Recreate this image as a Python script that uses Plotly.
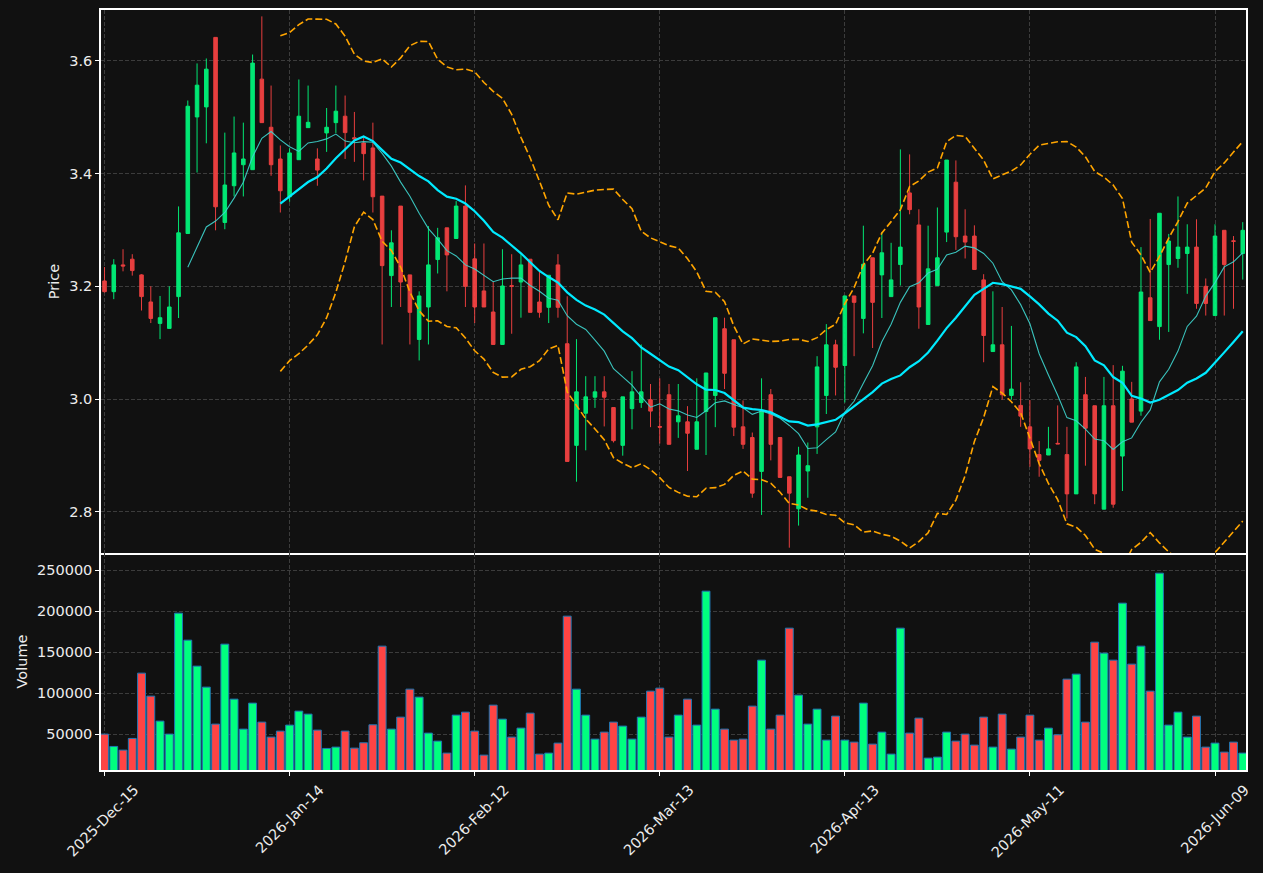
import pandas as pd
import numpy as np
import plotly.graph_objects as go
from plotly.subplots import make_subplots

# ---------------- data ----------------
open_ = [3.2095, 3.1905, 3.238, 3.2481, 3.2203, 3.1722, 3.1342, 3.1253, 3.1817, 3.2937,
         3.5006, 3.5184, 3.6418, 3.3133, 3.3785, 3.4158, 3.407, 3.5677, 3.4823, 3.426,
         3.3589, 3.4247, 3.4816, 3.426, 3.4722, 3.4905, 3.5019, 3.4637, 3.4544, 3.4456,
         3.3601, 3.219, 3.3424, 3.2203, 3.1057, 3.1633, 3.2475, 3.3038, 3.2848, 3.3424,
         3.2487, 3.1918, 3.1544, 3.0968, 3.2012, 3.2076, 3.2481, 3.1722, 3.1627, 3.238,
         3.0981, 2.9177, 2.9747, 3.0032, 3.0127, 2.9848, 2.9177, 2.9829, 2.9937, 2.9987,
         2.9512, 3.0076, 2.9595, 2.9595, 2.9108, 2.9778, 3.0063, 3.1247, 3.1051, 2.9506,
         2.9316, 2.8715, 3.0076, 2.9316, 2.862, 2.8051, 2.8722, 2.9506, 3.0063, 3.0962,
         3.0595, 3.1829, 3.143, 3.2506, 3.2203, 3.1817, 3.2386, 3.3658, 3.3089, 3.1323,
         3.2013, 3.2962, 3.3848, 3.2892, 3.2892, 3.2114, 3.0842, 3.0962, 3.0063, 2.9886,
         2.9506, 2.9013, 2.9006, 2.9213, 2.9013, 2.8316, 3.0076, 2.988, 2.8045, 2.988,
         2.8987, 3.0, 2.9785, 3.1797, 3.1285, 3.2386, 3.2494, 3.2582, 3.2696, 3.2,
         3.1481, 3.2994, 3.2808, 3.2582]
high = [3.2342, 3.2481, 3.2658, 3.257, 3.2215, 3.2, 3.1829, 3.2, 3.3418, 3.5298,
        3.5956, 3.6044, 3.6418, 3.4728, 3.5013, 3.4905, 3.6114, 3.6791, 3.5563, 3.45,
        3.445, 3.5671, 3.5563, 3.4449, 3.5165, 3.5563, 3.5386, 3.5095, 3.4671, 3.4905,
        3.3601, 3.2994, 3.3424, 3.2203, 3.1911, 3.307, 3.3038, 3.3038, 3.3513, 3.3791,
        3.276, 3.276, 3.2076, 3.2658, 3.257, 3.257, 3.2481, 3.2266, 3.2196, 3.257,
        3.1823, 3.1063, 3.0405, 3.0405, 3.0405, 2.9848, 3.0038, 3.0494, 3.0968, 3.0266,
        3.0367, 3.0266, 3.0266, 2.9873, 3.0367, 3.0462, 3.1443, 3.1443, 3.1051, 2.9975,
        2.9405, 3.0367, 3.0177, 2.9316, 2.862, 2.9152, 2.9228, 3.076, 3.1329, 3.1051,
        3.1829, 3.1829, 3.3076, 3.2506, 3.2962, 3.2772, 3.443, 3.4342, 3.3367, 3.3076,
        3.3399, 3.4241, 3.4234, 3.3367, 3.3082, 3.2215, 3.1911, 3.1633, 3.1297, 3.0297,
        2.9981, 2.9253, 2.9506, 2.9886, 2.9506, 3.0652, 3.0392, 2.988, 3.0392, 3.0601,
        3.0589, 3.0304, 3.2696, 3.3196, 3.3297, 3.293, 3.3595, 3.3101, 3.319, 3.2139,
        3.3101, 3.2994, 3.2892, 3.3139]
low = [3.189, 3.1772, 3.2266, 3.219, 3.157, 3.1348, 3.1063, 3.1253, 3.1437, 3.2937,
       3.4019, 3.4538, 3.2994, 3.3013, 3.3595, 3.3595, 3.407, 3.4905, 3.3962, 3.331,
       3.35, 3.4247, 3.4816, 3.3785, 3.4386, 3.4722, 3.426, 3.4209, 3.388, 3.331,
       3.0968, 3.1633, 3.1633, 3.0968, 3.0684, 3.0968, 3.2228, 3.1911, 3.2848, 3.1633,
       3.1348, 3.1633, 3.0968, 3.0968, 3.1158, 3.1443, 3.1538, 3.1443, 3.1348, 3.1443,
       2.8892, 2.8532, 2.9089, 2.9842, 2.9513, 2.9228, 2.8994, 2.9462, 2.9842, 2.95,
       2.9209, 2.9196, 2.931, 2.8722, 2.9108, 2.9006, 2.95, 3.0177, 2.9342, 2.9114,
       2.8247, 2.7943, 2.8911, 2.8608, 2.7361, 2.7753, 2.8247, 2.9025, 2.9734, 3.0063,
       2.9937, 3.076, 3.1165, 3.0905, 3.1437, 3.1817, 3.2013, 3.3278, 3.1247, 3.1323,
       3.2013, 3.2785, 3.2646, 3.2494, 3.2298, 3.0652, 3.0842, 2.9987, 2.9987, 2.9506,
       2.8797, 2.862, 2.9006, 2.9203, 2.788, 2.8316, 2.8816, 2.8133, 2.8045, 2.807,
       2.8367, 2.9589, 2.9703, 3.1392, 3.1051, 3.119, 3.2329, 3.1867, 3.1601, 3.1481,
       3.1481, 3.1481, 3.1601, 3.212]
close = [3.1905, 3.238, 3.236, 3.2279, 3.1817, 3.143, 3.1443, 3.1633, 3.2949, 3.5196,
         3.557, 3.5854, 3.3411, 3.3798, 3.4367, 3.426, 3.5962, 3.4905, 3.4158, 3.3696,
         3.4367, 3.5019, 3.4911, 3.4063, 3.4823, 3.5108, 3.4728, 3.4617, 3.4354, 3.3589,
         3.2367, 3.2772, 3.2076, 3.1538, 3.1829, 3.238, 3.2861, 3.2557, 3.3424, 3.2,
         3.1633, 3.1633, 3.0968, 3.2006, 3.2, 3.238, 3.1538, 3.1538, 3.2196, 3.1627,
         2.8892, 3.0127, 3.0038, 3.0127, 3.0032, 2.926, 3.0038, 3.0127, 3.0127, 2.9785,
         2.95, 2.9196, 2.9702, 2.9392, 2.9595, 3.0462, 3.1443, 3.0456, 2.95, 2.9196,
         2.8329, 2.9785, 2.9196, 2.8608, 2.8329, 2.9006, 2.8816, 3.057, 3.0962, 3.0563,
         3.1829, 3.1715, 3.2392, 3.1715, 3.2595, 3.2114, 3.2696, 3.3361, 3.1633, 3.231,
         3.2506, 3.4241, 3.288, 3.2785, 3.2298, 3.1127, 3.0962, 3.0076, 3.0177, 2.9696,
         2.9114, 2.8911, 2.9114, 2.9203, 2.8316, 3.057, 2.9481, 2.8316, 2.988, 2.8133,
         3.0494, 2.9589, 3.1899, 3.1392, 3.3297, 3.2804, 3.2696, 3.2696, 3.1696, 3.1696,
         3.2892, 3.2386, 3.2798, 3.2994]
volume = [50000, 34960, 30490, 44720, 124390, 96340, 65850, 50000, 197560, 164630,
          132930, 107320, 62200, 159760, 92680, 56100, 87800, 64630, 46340, 53660,
          60980, 78050, 74390, 54880, 32520, 34150, 53660, 32930, 39430, 61380,
          157320, 56100, 70730, 104880, 95120, 51220, 41460, 26830, 73170, 76830,
          53660, 24390, 85370, 68290, 46340, 57320, 75610, 25610, 26830, 39020,
          193900, 104880, 73170, 43900, 52440, 64630, 59760, 43900, 70730, 102440,
          106100, 46340, 73170, 92680, 60980, 224390, 80490, 56100, 42680, 43900,
          84150, 140240, 56100, 73170, 179270, 97560, 62200, 80490, 42680, 71950,
          42680, 40240, 87800, 37800, 52440, 25610, 179270, 51220, 69510, 20730,
          21950, 52440, 41460, 50000, 36580, 70730, 34150, 74390, 31710, 46340,
          73170, 42680, 57320, 49190, 117070, 123170, 64630, 162190, 148780, 140240,
          209750, 135370, 157320, 102440, 246340, 60980, 76830, 46340, 71950, 34150,
          39020, 28050, 40240, 26830]

holidays = ['2025-12-25', '2026-01-01', '2026-01-19', '2026-02-16',
            '2026-04-03', '2026-05-25']
dates = pd.bdate_range('2025-12-15', periods=len(close), freq='C', holidays=holidays)
date_labels = [d.strftime('%Y-%b-%d') for d in dates]
tick_step = 20

price_ticks = [2.8, 3.0, 3.2, 3.4, 3.6]
volume_ticks = [50000, 100000, 150000, 200000, 250000]

# ---------------- derived indicators ----------------
idx = list(range(len(close)))
cs = pd.Series(close)
ma10 = cs.rolling(10).mean()
ma20 = cs.rolling(20).mean()
sd20 = cs.rolling(20).std(ddof=0)
upper = ma20 + 2 * sd20
lower = ma20 - 2 * sd20

UP = '#00ff7f'
DOWN = '#ff4444'
vol_colors = [UP if c >= o else DOWN for o, c in zip(open_, close)]

FONT = 'DejaVu Sans'
BG = '#111111'
GRID = '#3c3c3c'
TXT = '#ececec'

fig = make_subplots(rows=2, cols=1, shared_xaxes=True, vertical_spacing=0,
                    row_heights=[543, 217])

fig.add_trace(go.Candlestick(
    x=idx, open=open_, high=high, low=low, close=close,
    increasing=dict(line=dict(color=UP, width=1), fillcolor=UP),
    decreasing=dict(line=dict(color=DOWN, width=1), fillcolor=DOWN),
    opacity=0.9, whiskerwidth=0, showlegend=False, name='OHLC'), row=1, col=1)

fig.add_trace(go.Scatter(x=idx, y=ma10, mode='lines',
                         line=dict(color='#3fd6cf', width=1.1), opacity=0.9,
                         showlegend=False, name='MA10'), row=1, col=1)
fig.add_trace(go.Scatter(x=idx, y=ma20, mode='lines',
                         line=dict(color='#00eaff', width=2.2),
                         showlegend=False, name='MA20'), row=1, col=1)
fig.add_trace(go.Scatter(x=idx, y=upper, mode='lines',
                         line=dict(color='#ffa500', width=1.6, dash='7px,3px'),
                         showlegend=False, name='Upper'), row=1, col=1)
fig.add_trace(go.Scatter(x=idx, y=lower, mode='lines',
                         line=dict(color='#ffa500', width=1.6, dash='7px,3px'),
                         showlegend=False, name='Lower'), row=1, col=1)

fig.add_trace(go.Bar(x=idx, y=volume, marker=dict(color=vol_colors,
                     line=dict(color='#1f77b4', width=1)),
                     showlegend=False, name='Volume'), row=2, col=1)

span = max(high) - min(low)
price_range = [min(low) - 0.01 * span, max(high) + 0.012 * span]
vol_range = [0.3 * min(volume), 1.1 * max(volume)]
x_range = [-0.38, len(close) - 1 + 0.35]

tickvals = list(range(0, len(close), tick_step))
ticktext = [date_labels[i] for i in tickvals]

axis_common = dict(showline=True, mirror=True, linecolor='white', linewidth=1.5,
                   showgrid=True, gridcolor=GRID, griddash='4px,2px', gridwidth=1,
                   zeroline=False, ticks='outside', ticklen=4, tickcolor='white',
                   tickfont=dict(family=FONT, size=14.5, color=TXT))

fig.update_xaxes(**axis_common, range=x_range, tickvals=tickvals, ticktext=ticktext,
                 rangeslider=dict(visible=False))
fig.update_xaxes(showticklabels=False, ticks='', row=1, col=1)
fig.update_xaxes(tickangle=-45, mirror=False, ticklabelshift=30,
                 ticklabelstandoff=0, row=2, col=1)

fig.update_yaxes(**axis_common)
fig.update_yaxes(range=price_range, tickvals=price_ticks, tickformat='.1f',
                 title=dict(text='Price', font=dict(family=FONT, size=14.5, color=TXT),
                            standoff=6), row=1, col=1)
fig.update_yaxes(range=vol_range, tickvals=volume_ticks, tickformat='d',
                 title=dict(text='Volume', font=dict(family=FONT, size=14.5, color=TXT),
                            standoff=6), row=2, col=1)

fig.update_layout(width=1263, height=873, paper_bgcolor=BG, plot_bgcolor=BG,
                  margin=dict(l=101, r=17, t=10, b=103, autoexpand=False),
                  bargap=0.15, boxgap=0.45, showlegend=False,
                  font=dict(family=FONT, color=TXT))

fig.write_html('out.html')
